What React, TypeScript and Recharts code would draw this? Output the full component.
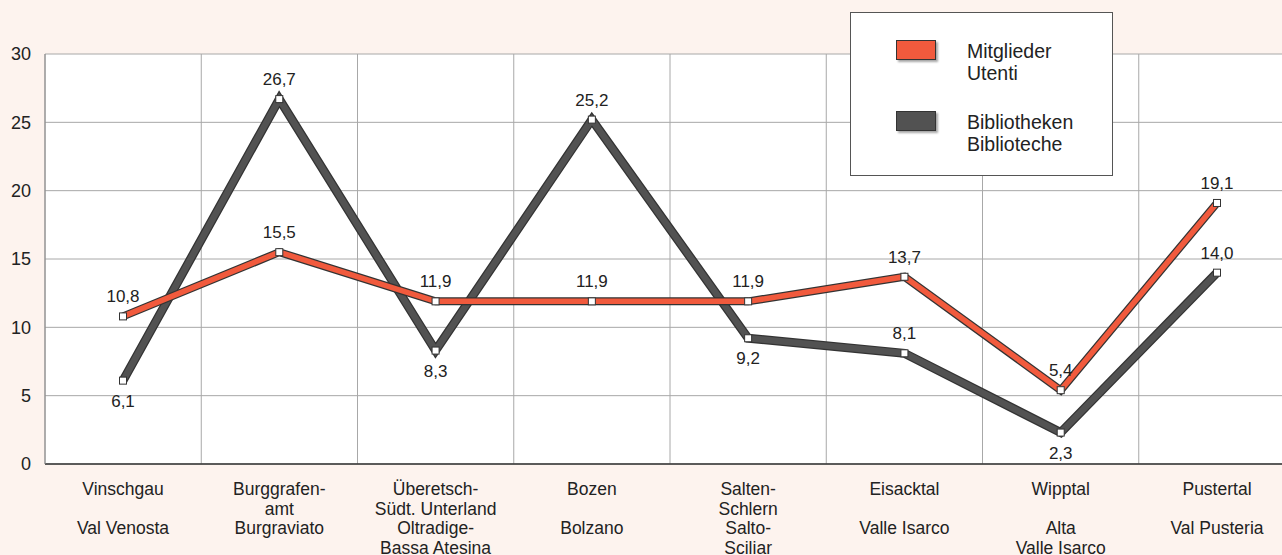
import React from 'react';
import { LineChart, Line, XAxis, YAxis, CartesianGrid, LabelList } from 'recharts';

const categoriesDe: string[][] = [
  ['Vinschgau'],
  ['Burggrafen-', 'amt'],
  ['Überetsch-', 'Südt. Unterland'],
  ['Bozen'],
  ['Salten-', 'Schlern'],
  ['Eisacktal'],
  ['Wipptal'],
  ['Pustertal'],
];
const categoriesIt: string[][] = [
  ['Val Venosta'],
  ['Burgraviato'],
  ['Oltradige-', 'Bassa Atesina'],
  ['Bolzano'],
  ['Salto-', 'Sciliar'],
  ['Valle Isarco'],
  ['Alta', 'Valle Isarco'],
  ['Val Pusteria'],
];
const mitglieder = [10.8, 15.5, 11.9, 11.9, 11.9, 13.7, 5.4, 19.1];
const bibliotheken = [6.1, 26.7, 8.3, 25.2, 9.2, 8.1, 2.3, 14.0];
const bibliothekenLabelBelow = [true, false, true, false, true, false, true, false];
const yTicks = [0, 5, 10, 15, 20, 25, 30];
const seriesMitglieder = ['Mitglieder', 'Utenti'];
const seriesBibliotheken = ['Bibliotheken', 'Biblioteche'];

const FONT = '"Liberation Sans", Arial, Helvetica, sans-serif';
const RED = '#f15a3d';
const DARK = '#525252';
const OUTLINE = '#333333';

const data = categoriesDe.map((c, i) => ({
  name: c.join(' '),
  mitglieder: mitglieder[i],
  bibliotheken: bibliotheken[i],
}));

const fmt = (v: number) => v.toFixed(1).replace('.', ',');

const XTick = (props: any) => {
  const { x, y, index } = props;
  const st = { fontFamily: FONT, fontSize: 17.5 } as React.CSSProperties;
  return (
    <g>
      {categoriesDe[index].map((t, i) => (
        <text key={'d' + i} x={x} y={y + 31 + i * 19.7} textAnchor="middle" fill="#222" style={st}>
          {t}
        </text>
      ))}
      {categoriesIt[index].map((t, i) => (
        <text key={'i' + i} x={x} y={y + 70 + i * 19.5} textAnchor="middle" fill="#222" style={st}>
          {t}
        </text>
      ))}
    </g>
  );
};

const SquareDot = (props: any) => {
  const { cx, cy } = props;
  if (cx == null || cy == null) return null;
  return <rect x={cx - 3.5} y={cy - 3.5} width={7} height={7} fill="#fff" stroke={OUTLINE} strokeWidth={1} />;
};

const makeLabel = (belowArr: boolean[] | null) => (props: any) => {
  const { x, y, value, index } = props;
  const below = belowArr ? belowArr[index] : false;
  return (
    <text
      x={x}
      y={below ? y + 26 : y - 14}
      textAnchor="middle"
      fill="#222"
      style={{ fontFamily: FONT, fontSize: 17 }}
    >
      {fmt(Number(value))}
    </text>
  );
};

const Swatch = ({ color, top }: { color: string; top: number }) => (
  <div
    style={{
      position: 'absolute',
      left: 45,
      top,
      width: 38,
      height: 18,
      background: color,
      border: '1px solid #333',
      boxShadow: '2px 2px 2px rgba(0,0,0,0.35)',
    }}
  />
);

export default function App() {
  return (
    <div
      style={{
        position: 'fixed',
        left: 0,
        top: 0,
        width: 1282,
        height: 555,
        overflow: 'hidden',
        background: '#fdf3ee',
      }}
    >
      <div style={{ position: 'absolute', left: 0, top: 0 }}>
        <LineChart width={1300} height={555} data={data} margin={{ top: 54, right: 5, bottom: 0, left: 0 }}>
          <CartesianGrid
            fill="#ffffff"
            stroke="#a8a8a8"
            strokeWidth={1}
            verticalCoordinatesGenerator={({ offset }: any) =>
              Array.from({ length: categoriesDe.length + 1 }, (_, i) => offset.left + (i * offset.width) / categoriesDe.length)
            }
          />
          <XAxis
            dataKey="name"
            interval={0}
            padding={{ left: 78, right: 78 }}
            tickLine={false}
            tickSize={0}
            tickMargin={0}
            height={91}
            axisLine={{ stroke: '#333', strokeWidth: 1.5 }}
            tick={<XTick />}
          />
          <YAxis
            width={45}
            domain={[0, 30]}
            ticks={yTicks}
            tickLine={false}
            tickSize={0}
            tickMargin={14}
            axisLine={{ stroke: '#888' }}
            tick={{ fontFamily: FONT, fontSize: 18, fill: '#222' }}
          />
          <Line
            dataKey="bibliotheken"
            stroke={OUTLINE}
            strokeWidth={9}
            dot={false}
            activeDot={false}
            isAnimationActive={false}
            legendType="none"
          />
          <Line
            dataKey="bibliotheken"
            stroke={DARK}
            strokeWidth={6.5}
            dot={<SquareDot />}
            activeDot={false}
            isAnimationActive={false}
          >
            <LabelList dataKey="bibliotheken" content={makeLabel(bibliothekenLabelBelow)} />
          </Line>
          <Line
            dataKey="mitglieder"
            stroke={OUTLINE}
            strokeWidth={8}
            dot={false}
            activeDot={false}
            isAnimationActive={false}
            legendType="none"
          />
          <Line
            dataKey="mitglieder"
            stroke={RED}
            strokeWidth={5.5}
            dot={<SquareDot />}
            activeDot={false}
            isAnimationActive={false}
          >
            <LabelList dataKey="mitglieder" content={makeLabel(null)} />
          </Line>
        </LineChart>
      </div>
      <div
        style={{
          position: 'absolute',
          left: 850,
          top: 12,
          width: 261,
          height: 162,
          background: '#fff',
          border: '1px solid #555',
          fontFamily: FONT,
          fontSize: 19.5,
          color: '#222',
          lineHeight: '22px',
        }}
      >
        <Swatch color={RED} top={27} />
        <div style={{ position: 'absolute', left: 116, top: 27 }}>
          {seriesMitglieder.map((t) => (
            <div key={t}>{t}</div>
          ))}
        </div>
        <Swatch color={DARK} top={98} />
        <div style={{ position: 'absolute', left: 116, top: 98 }}>
          {seriesBibliotheken.map((t) => (
            <div key={t}>{t}</div>
          ))}
        </div>
      </div>
    </div>
  );
}
